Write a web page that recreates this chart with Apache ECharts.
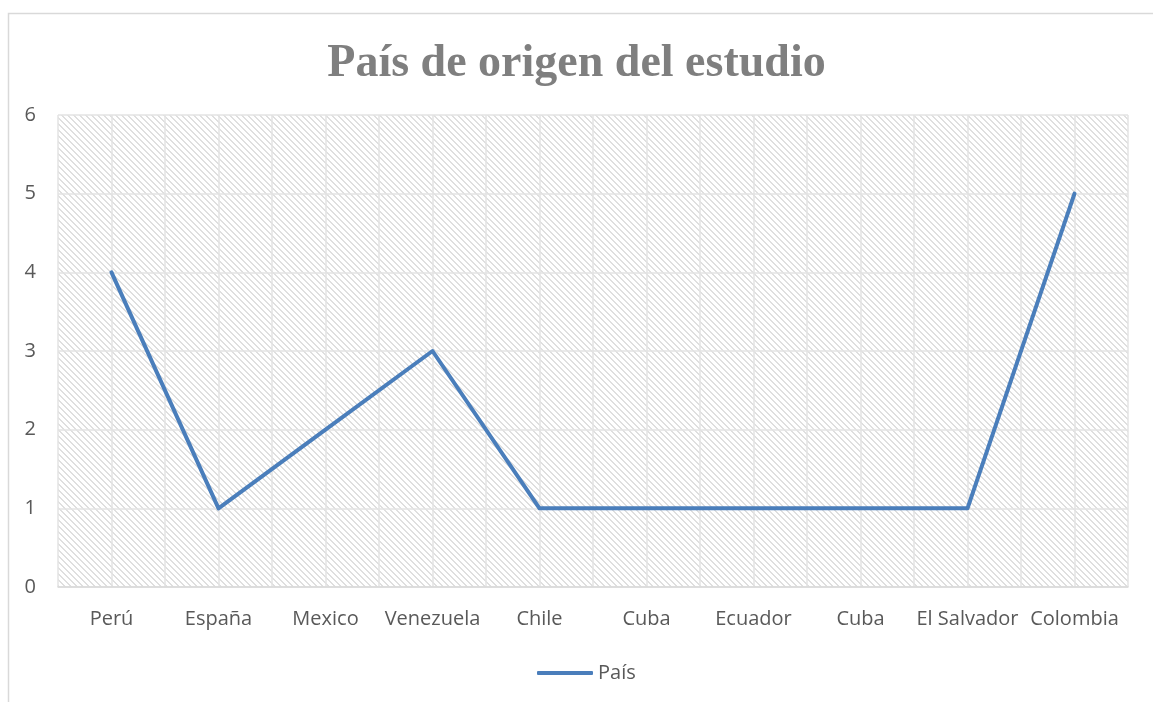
<!DOCTYPE html>
<html>
<head>
<meta charset="utf-8">
<style>
  html, body { margin: 0; padding: 0; background: #fff; }
  #graph { width: 1153px; height: 702px; }
</style>
<script src="https://cdn.jsdelivr.net/npm/echarts@6/dist/echarts.min.js"></script>
</head>
<body>
<div id="graph"></div>
<script>
var categories = ['Perú', 'España', 'Mexico', 'Venezuela', 'Chile', 'Cuba', 'Ecuador', 'Cuba', 'El Salvador', 'Colombia'];
var values = [4, 1, 2, 3, 1, 1, 1, 1, 1, 5];
var seriesName = 'País';
var titleText = 'País de origen del estudio';

// axe secondaire : deux cases par catégorie pour avoir les lignes au centre et aux bords
var halfSlots = [];
for (var k = 0; k < categories.length * 2; k++) halfSlots.push('');

// motif hachuré du fond de la zone de tracé
var tile = document.createElement('canvas');
tile.width = 6;
tile.height = 6;
var ctx = tile.getContext('2d');
ctx.fillStyle = '#ffffff';
ctx.fillRect(0, 0, 6, 6);
ctx.fillStyle = '#dfdfdf';
for (var i = 0; i < 6; i++) {
    ctx.fillRect(i, i, 2, 1);
    if (i == 5) ctx.fillRect(0, 5, 1, 1);
}

var labelFont = '"Open Sans", "Noto Sans", sans-serif';
var lineColor = '#4a7ebb';
var gridColor = '#e3e3e3';

var chart = echarts.init(document.getElementById('graph'));

var option = {
    backgroundColor: '#ffffff',
    animation: false,
    title: {
        text: titleText,
        left: 'center',
        top: 36,
        textStyle: {
            fontFamily: '"Liberation Serif", "DejaVu Serif", serif',
            fontWeight: 'bold',
            fontSize: 46,
            color: '#7f7f7f'
        }
    },
    graphic: [{
        type: 'rect',
        left: 6,
        top: 11,
        shape: { width: 1200, height: 1000 },
        style: { fill: 'none', stroke: '#d9d9d9', lineWidth: 1.5 },
        silent: true
    }],
    legend: {
        bottom: 14,
        left: 532,
        itemWidth: 56,
        itemHeight: 4,
        itemGap: 4,
        icon: 'roundRect',
        textStyle: { fontFamily: labelFont, fontSize: 20, color: '#595959' },
        data: [seriesName]
    },
    grid: {
        left: 58,
        right: 25,
        top: 115,
        bottom: 115,
        show: true,
        borderWidth: 0,
        backgroundColor: { image: tile, repeat: 'repeat' }
    },
    xAxis: [{
        type: 'category',
        data: categories,
        boundaryGap: true,
        axisLine: { lineStyle: { color: '#d9d9d9', width: 1.5 } },
        axisTick: { show: false },
        axisLabel: { fontFamily: labelFont, fontSize: 20, color: '#595959', margin: 22, interval: 0 },
        splitLine: { show: false }
    }, {
        type: 'category',
        data: halfSlots,
        boundaryGap: true,
        position: 'bottom',
        axisLine: { show: false },
        axisTick: { show: false },
        axisLabel: { show: false },
        splitLine: { show: true, interval: 0, lineStyle: { color: gridColor, width: 1.5 } }
    }],
    yAxis: {
        type: 'value',
        min: 0,
        max: 6,
        interval: 1,
        axisLine: { show: false },
        axisTick: { show: false },
        axisLabel: { fontFamily: labelFont, fontSize: 20, color: '#595959', margin: 22 },
        splitLine: { show: true, lineStyle: { color: gridColor, width: 1.5 } }
    },
    series: [{
        name: seriesName,
        type: 'line',
        data: values,
        xAxisIndex: 0,
        showSymbol: false,
        symbol: 'none',
        lineStyle: { color: lineColor, width: 4, cap: 'round', join: 'round' },
        itemStyle: { color: lineColor }
    }]
};

chart.setOption(option);
</script>
</body>
</html>
